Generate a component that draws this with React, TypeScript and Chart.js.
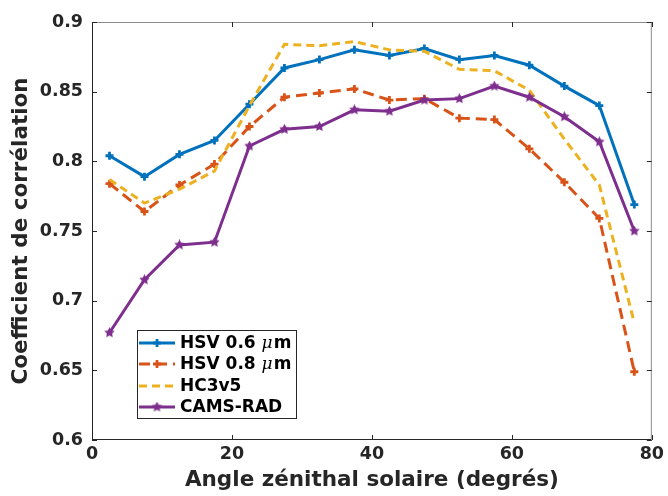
import React, { useEffect, useRef } from "react";
import { Chart, registerables } from "chart.js";

Chart.register(...registerables);

// ---- data ----
const angles = [2.5, 7.5, 12.5, 17.5, 22.5, 27.5, 32.5, 37.5, 42.5, 47.5, 52.5, 57.5, 62.5, 67.5, 72.5, 77.5];
const hsv06 = [0.804, 0.789, 0.805, 0.815, 0.841, 0.867, 0.873, 0.880, 0.876, 0.881, 0.873, 0.876, 0.869, 0.854, 0.840, 0.769];
const hsv08 = [0.784, 0.764, 0.783, 0.798, 0.825, 0.846, 0.849, 0.852, 0.844, 0.845, 0.831, 0.830, 0.809, 0.785, 0.759, 0.649];
const hc3v5 = [0.787, 0.770, 0.780, 0.793, 0.840, 0.884, 0.883, 0.886, 0.880, 0.879, 0.866, 0.865, 0.851, 0.816, 0.783, 0.684];
const camsRad = [0.677, 0.715, 0.740, 0.742, 0.811, 0.823, 0.825, 0.837, 0.836, 0.844, 0.845, 0.854, 0.846, 0.832, 0.814, 0.750];

const seriesLabels = ["HSV 0.6 μm", "HSV 0.8 μm", "HC3v5", "CAMS-RAD"];
const xTicks = [0, 20, 40, 60, 80];
const xTickLabels = ["0", "20", "40", "60", "80"];
const yTicks = [0.6, 0.65, 0.7, 0.75, 0.8, 0.85, 0.9];
const yTickLabels = ["0.6", "0.65", "0.7", "0.75", "0.8", "0.85", "0.9"];
const xTitle = "Angle zénithal solaire (degrés)";
const yTitle = "Coefficient de corrélation";

// ---- styles ----
const COLORS = ["#0072BD", "#D95319", "#EDB120", "#7E2F8E"];
const TEXT = "#262626";
const FONT = "'DejaVu Sans', sans-serif";

function starCanvas(color: string) {
  const c = document.createElement("canvas");
  c.width = 11;
  c.height = 11;
  const g = c.getContext("2d")!;
  g.fillStyle = color;
  g.beginPath();
  for (let i = 0; i < 10; i++) {
    const r = i % 2 === 0 ? 5.5 : 2.8;
    const a = -Math.PI / 2 + (i * Math.PI) / 5;
    g.lineTo(5.5 + r * Math.cos(a), 5.5 + r * Math.sin(a));
  }
  g.closePath();
  g.fill();
  return c;
}

function drawMarker(ctx: CanvasRenderingContext2D, ds: any, x: number, y: number) {
  const ps = ds.pointStyle;
  if (ps === false || ds.pointRadius === 0) return;
  if (ps === "cross") {
    const r = ds.pointRadius;
    ctx.save();
    ctx.strokeStyle = ds.borderColor;
    ctx.lineWidth = ds.pointBorderWidth;
    ctx.setLineDash([]);
    ctx.beginPath();
    ctx.moveTo(x - r, y);
    ctx.lineTo(x + r, y);
    ctx.moveTo(x, y - r);
    ctx.lineTo(x, y + r);
    ctx.stroke();
    ctx.restore();
  } else if (ps instanceof HTMLCanvasElement) {
    ctx.drawImage(ps, x - ps.width / 2, y - ps.height / 2);
  }
}

const framePlugin = {
  id: "frame",
  afterDraw(chart: any) {
    const { ctx, chartArea } = chart;
    const { left, right, top, bottom } = chartArea;
    const xs = chart.scales.x;
    const ys = chart.scales.y;
    ctx.save();
    ctx.setLineDash([]);
    // box
    ctx.lineWidth = 1;
    ctx.strokeStyle = "#8a8a8a";
    ctx.beginPath();
    ctx.moveTo(left + 0.5, top + 0.5);
    ctx.lineTo(right - 0.5, top + 0.5);
    ctx.lineTo(right - 0.5, bottom - 0.5);
    ctx.stroke();
    ctx.strokeStyle = "#262626";
    ctx.beginPath();
    ctx.moveTo(left + 0.5, top + 0.5);
    ctx.lineTo(left + 0.5, bottom - 0.5);
    ctx.lineTo(right - 0.5, bottom - 0.5);
    ctx.stroke();
    // inward ticks
    const tl = 5;
    ctx.strokeStyle = "#262626";
    ctx.beginPath();
    xTicks.forEach((v) => {
      const px = Math.round(xs.getPixelForValue(v)) + 0.5;
      ctx.moveTo(px, bottom);
      ctx.lineTo(px, bottom - tl);
      ctx.moveTo(px, top);
      ctx.lineTo(px, top + tl);
    });
    yTicks.forEach((v) => {
      const py = Math.round(ys.getPixelForValue(v)) + 0.5;
      ctx.moveTo(left, py);
      ctx.lineTo(left + tl, py);
      ctx.moveTo(right, py);
      ctx.lineTo(right - tl, py);
    });
    ctx.stroke();

    // legend
    const lx = 137, ly = 330, lw = 159, lh = 88;
    ctx.fillStyle = "#ffffff";
    ctx.fillRect(lx, ly, lw, lh);
    ctx.strokeStyle = "#262626";
    ctx.lineWidth = 1;
    ctx.strokeRect(lx + 0.5, ly + 0.5, lw, lh);
    const rows = [343, 364, 386, 407];
    chart.data.datasets.forEach((ds: any, i: number) => {
      const y = rows[i];
      ctx.save();
      ctx.strokeStyle = ds.borderColor;
      ctx.lineWidth = ds.borderWidth;
      ctx.setLineDash(ds.borderDash || []);
      ctx.beginPath();
      ctx.moveTo(139, y);
      ctx.lineTo(175, y);
      ctx.stroke();
      ctx.restore();
      drawMarker(ctx, ds, 157, y);
      // text
      const parts = String(ds.label).split("μ");
      let tx = 180;
      ctx.fillStyle = "#000000";
      ctx.textBaseline = "middle";
      ctx.textAlign = "left";
      parts.forEach((p, k) => {
        if (k > 0) {
          ctx.font = "italic 17px 'DejaVu Serif', serif";
          ctx.fillText("μ", tx, y + 1);
          tx += ctx.measureText("μ").width + 1;
        }
        ctx.font = "bold 17px " + FONT;
        ctx.fillText(p, tx, y + 1);
        tx += ctx.measureText(p).width;
      });
    });
    ctx.restore();
  },
};

function makeDataset(label: string, values: number[], color: string, dash: number[], style: any, order: number) {
  return {
    label,
    data: angles.map((a, i) => ({ x: a, y: values[i] })),
    borderColor: color,
    backgroundColor: color,
    borderWidth: 3,
    borderDash: dash,
    pointStyle: style,
    pointRadius: style === false ? 0 : 4,
    pointBorderWidth: 2.8,
    pointBorderColor: color,
    pointBackgroundColor: color,
    tension: 0,
    fill: false,
    order,
  };
}

export default function App() {
  const ref = useRef<HTMLCanvasElement>(null);
  useEffect(() => {
    document.body.style.margin = "0";
    const canvas = ref.current!;
    const chart = new Chart(canvas, {
      type: "line",
      data: {
        datasets: [
          makeDataset(seriesLabels[0], hsv06, COLORS[0], [], "cross", 4),
          makeDataset(seriesLabels[1], hsv08, COLORS[1], [11, 6], "cross", 3),
          makeDataset(seriesLabels[2], hc3v5, COLORS[2], [8, 5], false, 2),
          makeDataset(seriesLabels[3], camsRad, COLORS[3], [], starCanvas(COLORS[3]), 1),
        ] as any,
      },
      options: {
        animation: false,
        responsive: false,
        maintainAspectRatio: false,
        layout: { padding: { top: 22, right: 14, left: 0, bottom: 0 } },
        plugins: { legend: { display: false }, tooltip: { enabled: false } },
        scales: {
          x: {
            type: "linear",
            min: 0,
            max: 80,
            afterFit: (s: any) => { s.height = 56; },
            afterBuildTicks: (s: any) => { s.ticks = xTicks.map((v) => ({ value: v })); },
            grid: { display: false, drawTicks: false },
            border: { display: false },
            ticks: {
              padding: 4,
              color: TEXT,
              font: { family: FONT, size: 17.5, weight: "bold" },
              callback: (v: any) => xTickLabels[xTicks.indexOf(v)] ?? "",
              maxRotation: 0,
            },
            title: {
              display: true,
              text: xTitle,
              color: TEXT,
              font: { family: FONT, size: 21.5, weight: "bold" },
              padding: { top: 0, bottom: 3 },
            },
          },
          y: {
            type: "linear",
            min: 0.6,
            max: 0.9,
            afterFit: (s: any) => { s.width = 92; },
            afterBuildTicks: (s: any) => { s.ticks = yTicks.map((v) => ({ value: v })); },
            grid: { display: false, drawTicks: false },
            border: { display: false },
            ticks: {
              padding: 9,
              color: TEXT,
              font: { family: FONT, size: 17.5, weight: "bold" },
              callback: (v: any) => {
                const i = yTicks.findIndex((t) => Math.abs(t - v) < 1e-9);
                return i >= 0 ? yTickLabels[i] : "";
              },
            },
            title: {
              display: true,
              text: yTitle,
              color: TEXT,
              font: { family: FONT, size: 21.5, weight: "bold" },
              padding: { top: 9, bottom: 0 },
            },
          },
        },
      },
      plugins: [framePlugin],
    });
    return () => chart.destroy();
  }, []);
  return <canvas ref={ref} width={668} height={496} style={{ display: "block" }} />;
}
